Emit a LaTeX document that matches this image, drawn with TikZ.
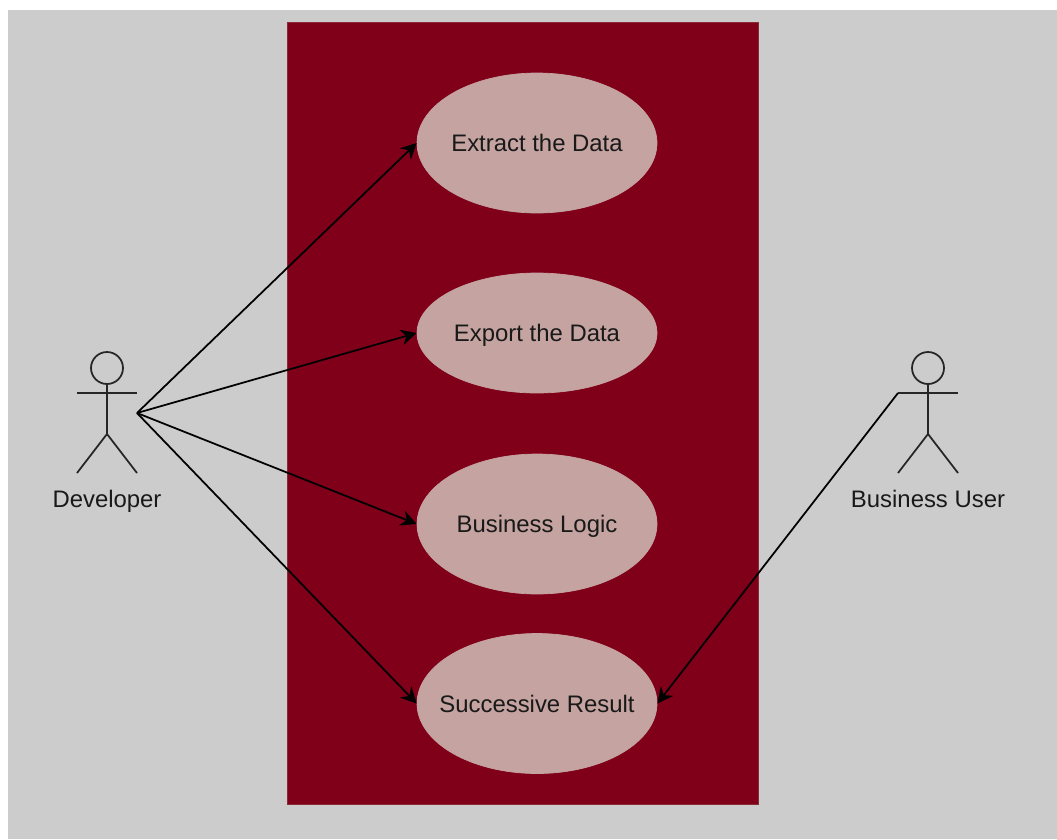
\documentclass[tikz,border=0pt]{standalone}
\usepackage{fontspec}
\setmainfont{Liberation Sans}
\usetikzlibrary{arrows.meta,shapes.geometric}
\definecolor{pagegray}{HTML}{CCCCCC}
\definecolor{boxred}{HTML}{800019}
\definecolor{boxedge}{HTML}{8A2A35}
\definecolor{casepink}{HTML}{C4A3A0}
\tikzset{
  usecase/.style={ellipse, fill=casepink, draw=casepink, inner sep=-1cm, minimum width=4.8cm, font=\fontsize{13.6}{16}\selectfont, text=black!90, text height=11.5pt, text depth=1.3pt},
  actorlabel/.style={font=\fontsize{13.6}{16}\selectfont, text=black!90, text height=11.5pt, text depth=1.3pt},
  limb/.style={black!85, line width=1pt},
  link/.style={-{Stealth[length=9pt,width=9pt]}, black, line width=1pt},
}
\begin{document}
\begin{tikzpicture}[x=0.02cm,y=-0.02cm]
    \useasboundingbox (0,0) rectangle (1057,839);
    \fill[pagegray] (8,10) rectangle (1057,839);
    \draw[fill=boxred, draw=boxedge, line width=0.5pt] (287,22) rectangle (758,804);
      % use cases
    \node[usecase, minimum height=2.8cm] (extract) at (537,143) {Extract the Data};
    \node[usecase, minimum height=2.4cm] (export) at (537,333) {Export the Data};
    \node[usecase, minimum height=2.8cm] (logic) at (537,524) {Business Logic};
    \node[usecase, minimum height=2.8cm] (result) at (537,703.5) {Successive Result};
      % actors
    \foreach \who/\cx in {dev/107,usr/928} {
      \node[circle, limb, draw, inner sep=0pt, minimum size=0.64cm] (\who head) at (\cx,368) {};
      \coordinate (\who hip) at (\cx,434);
      \draw[limb] (\who head.south) -- (\who hip);
      \draw[limb] (\cx-30,393) -- (\cx+30,393);
      \draw[limb] (\cx-30,473) -- (\who hip) -- (\cx+30,473);
    }
    \node[actorlabel] (devlabel) at (107,498.5) {Developer};
    \node[actorlabel] (usrlabel) at (928,498.5) {Business User};
    \coordinate (devhand) at (137,413);
    \coordinate (usrhand) at (898,393);
      % connectors
    \draw[link] (devhand) -- (extract.west);
    \draw[link] (devhand) -- (export.west);
    \draw[link] (devhand) -- (logic.west);
    \draw[link] (devhand) -- (result.west);
    \draw[link] (usrhand) -- (result.east);
\end{tikzpicture}
\end{document}
